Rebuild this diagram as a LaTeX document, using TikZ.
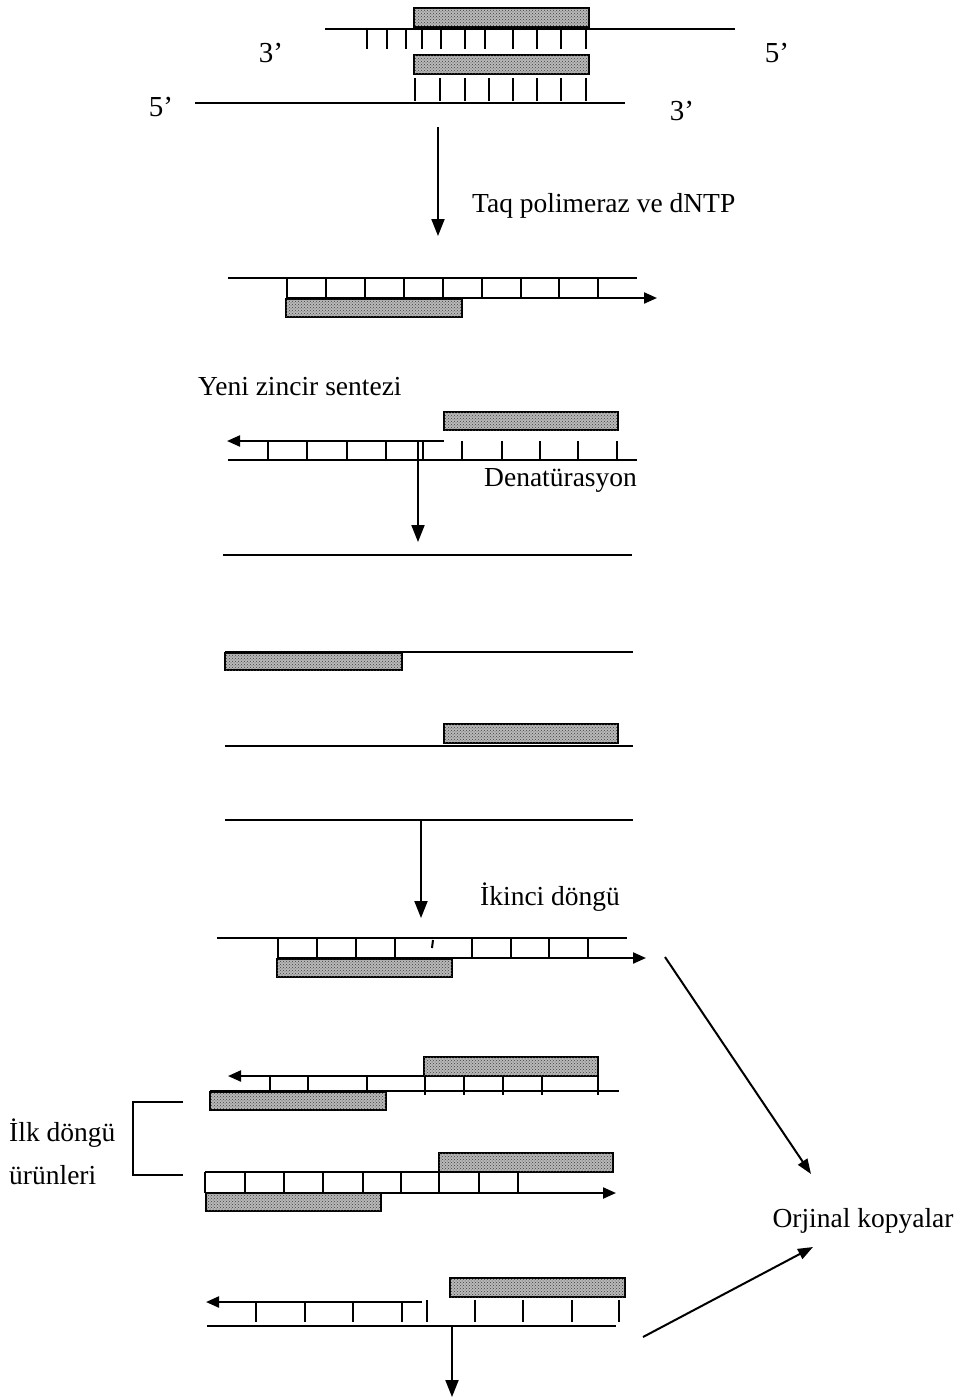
\documentclass[tikz,border=0pt]{standalone}
\usepackage{fontspec}
\setmainfont{Liberation Serif}
\usetikzlibrary{arrows.meta,patterns}
\begin{document}
\begin{tikzpicture}[x=1pt,y=-1pt,
  strandline/.style={line width=2.2pt},
  tickmark/.style={line width=2pt},
  primerbox/.style={draw,line width=2.4pt,fill=black!28,postaction={pattern=crosshatch dots,pattern color=black!75}},
  flowarrow/.style={line width=2pt,-{Triangle[length=17pt,width=13pt]}},
  growarrow/.style={line width=2.2pt,-{Triangle[length=13pt,width=11pt]}},
  lbl/.style={font=\fontsize{27.5}{32}\selectfont,inner sep=0pt},
  primelbl/.style={font=\fontsize{29}{32}\selectfont,inner sep=0pt}]
\useasboundingbox (0,0) rectangle (958,1398);

% ---------- Block 1: annealing ----------
\draw[primerbox] (414,8) rectangle (589,27);
\draw[strandline] (325,29) -- (735,29);
\foreach \x in {367,387,406,422,441,465,485,513,537,561,586} \draw[tickmark] (\x,30) -- (\x,49);
\draw[primerbox] (414,55) rectangle (589,74);
\foreach \x in {415,440,465,489,513,537,561,586} \draw[tickmark] (\x,78) -- (\x,101);
\draw[strandline] (195,103) -- (625,103);
\node[primelbl] (l3a) at (271,53) {3’};
\node[primelbl] (l5a) at (777,53) {5’};
\node[primelbl] (l5b) at (161,107) {5’};
\node[primelbl] (l3b) at (682,111) {3’};

\coordinate (a1s) at (438,127);
\coordinate (a1e) at (438,236);
\draw[flowarrow] (a1s) -- (a1e);
\node[lbl,anchor=west] (taq) at (472,206) {Taq polimeraz ve dNTP};

% ---------- Block 2: extension ----------
\draw[strandline] (228,278) -- (637,278);
\coordinate (g2s) at (287,298);
\coordinate (g2e) at (657,298);
\draw[growarrow] (g2s) -- (g2e);
\foreach \x in {287,326,365,404,443,482,521,559,598} \draw[tickmark] (\x,278) -- (\x,298);
\draw[primerbox] (286,299) rectangle (462,317);

\node[lbl,anchor=west] (yeni) at (198,387) {Yeni zincir sentezi};

% ---------- Block 3 ----------
\draw[primerbox] (444,412) rectangle (618,430);
\coordinate (g3s) at (444,441);
\coordinate (g3e) at (227,441);
\draw[growarrow] (g3s) -- (g3e);
\draw[strandline] (228,460) -- (637,460);
\foreach \x in {268,307,347,386,423} \draw[tickmark] (\x,441) -- (\x,460);
\foreach \x in {462,502,540,578,617} \draw[tickmark] (\x,441) -- (\x,460);
\coordinate (a3s) at (418,441);
\coordinate (a3e) at (418,542);
\draw[flowarrow] (a3s) -- (a3e);
\node[lbl,anchor=west] (denat) at (484,480) {Denatürasyon};

% ---------- Block 4: separated strands ----------
\draw[strandline] (223,555) -- (632,555);
\draw[strandline] (225,652) -- (633,652);
\draw[primerbox] (225,653) rectangle (402,670);
\draw[primerbox] (444,724) rectangle (618,743);
\draw[strandline] (225,746) -- (633,746);
\draw[strandline] (225,820) -- (633,820);
\coordinate (a4s) at (421,821);
\coordinate (a4e) at (421,918);
\draw[flowarrow] (a4s) -- (a4e);
\node[lbl,anchor=west] (ikinci) at (480,897) {İkinci döngü};

% ---------- Block 5 ----------
\draw[strandline] (217,938) -- (627,938);
\foreach \x in {278,317,356,395,472,511,549,588} \draw[tickmark] (\x,938) -- (\x,958);
\draw[tickmark] (433,940) -- (432,948);
\coordinate (g5s) at (278,958);
\coordinate (g5e) at (646,958);
\draw[growarrow] (g5s) -- (g5e);
\draw[primerbox] (277,959) rectangle (452,977);

% ---------- Block 6 ----------
\draw[primerbox] (424,1057) rectangle (598,1076);
\coordinate (g6s) at (424,1076);
\coordinate (g6e) at (228,1076);
\draw[growarrow] (g6s) -- (g6e);
\draw[strandline] (210,1091) -- (619,1091);
\foreach \x in {270,308,367} \draw[tickmark] (\x,1076) -- (\x,1091);
\foreach \x in {425,464,503,542,598} \draw[tickmark] (\x,1076) -- (\x,1095);
\draw[primerbox] (210,1092) rectangle (386,1110);

% ---------- Block 7 ----------
\draw[primerbox] (439,1153) rectangle (613,1172);
\draw[strandline] (205,1172) -- (519,1172);
\foreach \x in {205,245,284,323,363,401,439,479,518} \draw[tickmark] (\x,1172) -- (\x,1193);
\coordinate (g7s) at (205,1193);
\coordinate (g7e) at (616,1193);
\draw[growarrow] (g7s) -- (g7e);
\draw[primerbox] (206,1193) rectangle (381,1211);

% bracket and label
\coordinate (b1) at (183,1102);
\coordinate (b2) at (183,1175);
\draw[line width=2pt] (b1) -- (133,1102) -- (133,1175) -- (b2);
\node[lbl,anchor=west] (ilk) at (9,1133) {İlk döngü};
\node[lbl,anchor=west] (urun) at (9,1175) {ürünleri};

% ---------- Block 8 ----------
\draw[primerbox] (450,1278) rectangle (625,1297);
\coordinate (g8s) at (422,1302);
\coordinate (g8e) at (206,1302);
\draw[growarrow] (g8s) -- (g8e);
\draw[strandline] (207,1326) -- (616,1326);
\foreach \x in {256,305,353,402} \draw[tickmark] (\x,1302) -- (\x,1322);
\foreach \x in {427,475,523,572,619} \draw[tickmark] (\x,1300) -- (\x,1322);
\coordinate (a8s) at (452,1327);
\coordinate (a8e) at (452,1397);
\draw[flowarrow] (a8s) -- (a8e);

% ---------- Orjinal kopyalar ----------
\node[lbl] (orj) at (863,1221) {Orjinal kopyalar};
\coordinate (d1s) at (665,957);
\coordinate (d1e) at (811,1174);
\draw[line width=2pt,-{Triangle[length=15pt,width=11pt]}] (d1s) -- (d1e);
\coordinate (d2s) at (643,1337);
\coordinate (d2e) at (813,1247);
\draw[line width=2pt,-{Triangle[length=15pt,width=11pt]}] (d2s) -- (d2e);
\end{tikzpicture}
\end{document}
